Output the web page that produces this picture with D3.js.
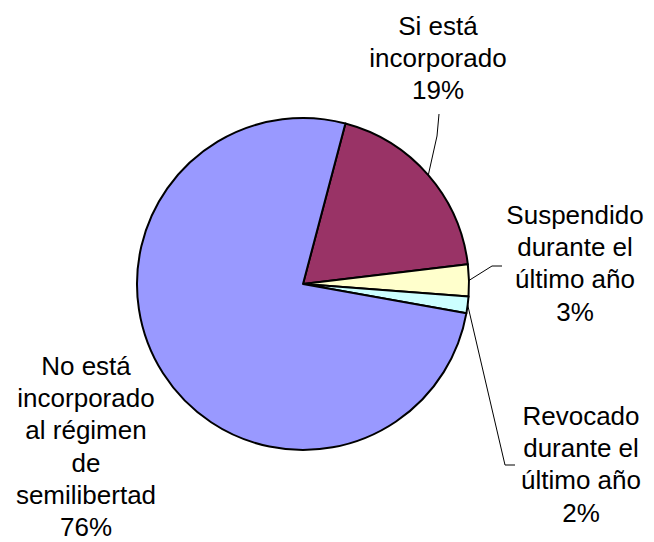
<!DOCTYPE html>
<meta charset="utf-8">
<style>
body { margin: 0; background: #fff; }
text {
  font-family: Arial, 'Liberation Sans', sans-serif;
  font-size: 26px;
  fill: #000;
  text-anchor: middle;
}
</style>
<body>
<svg width="654" height="542"></svg>
<script src="https://d3js.org/d3.v7.min.js"></script>
<script>

var labels = [
  ["Si está", "incorporado"],
  ["Suspendido", "durante el", "último año"],
  ["Revocado", "durante el", "último año"],
  ["No está", "incorporado", "al régimen", "de", "semilibertad"]
];
var values = [19.0, 3.1, 1.6, 76.3];
var colors = ["#993366", "#FFFFCC", "#CCFFFF", "#9999FF"];

var svg = d3.select("svg"),
    cx = 303, cy = 284, radius = 166,
    firstAngle = 14.8 * Math.PI / 180,
    lineHeight = 32.2;

// where each label block sits (first baseline), plus leader elbow
var labelPos = [
  {x: 438, y: 35, leader: [[437, 136], [439, 114]]},
  {x: 575, y: 224, leader: [[492, 266], [502, 266]]},
  {x: 581, y: 425, leader: [[505, 465], [515, 465]]},
  {x: 86, y: 375, leader: null}
];

var total = d3.sum(values);
var data = values.map(function(v, i) {
  return {value: v, lines: labels[i], color: colors[i], pos: labelPos[i]};
});

var pie = d3.pie()
    .sort(null)
    .value(d => d.value)
    .startAngle(firstAngle)
    .endAngle(firstAngle + 2 * Math.PI);

var arc = d3.arc().innerRadius(0).outerRadius(radius);
var edge = d3.arc().innerRadius(radius).outerRadius(radius);

var g = svg.append("g").attr("transform", "translate(" + cx + "," + cy + ")");
var arcs = pie(data);

g.selectAll("path.slice")
  .data(arcs)
  .enter().append("path")
    .attr("class", "slice")
    .attr("d", arc)
    .attr("fill", d => d.data.color)
    .attr("stroke", "#000")
    .attr("stroke-width", 2)
    .attr("stroke-linejoin", "round");

// leader lines
arcs.forEach(function(d) {
  if (!d.data.pos.leader) return;
  var p = edge.centroid(d);
  var pts = [[p[0] + cx, p[1] + cy]].concat(d.data.pos.leader);
  svg.append("path")
    .attr("d", d3.line()(pts))
    .attr("fill", "none")
    .attr("stroke", "#000")
    .attr("stroke-width", 1);
});

// labels
arcs.forEach(function(d) {
  var lines = d.data.lines.concat([Math.round(d.data.value / total * 100) + "%"]);
  var t = svg.append("text")
    .attr("x", d.data.pos.x)
    .attr("y", d.data.pos.y);
  lines.forEach(function(s, i) {
    t.append("tspan")
      .attr("x", d.data.pos.x)
      .attr("dy", i ? lineHeight : 0)
      .text(s);
  });
});

</script>
</body>
